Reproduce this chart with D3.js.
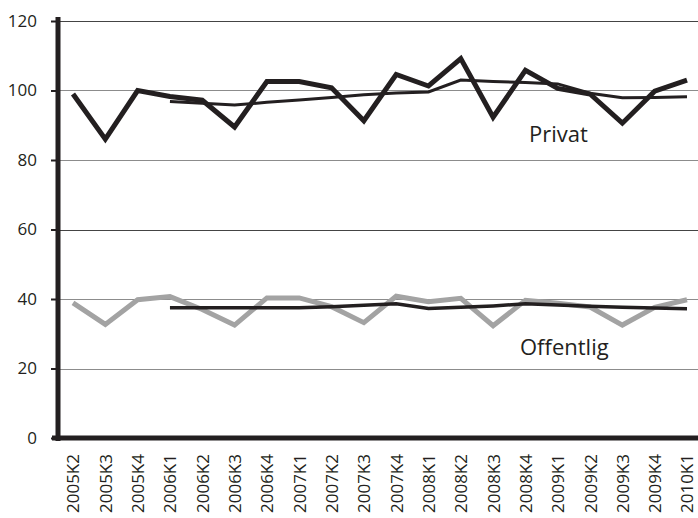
<!DOCTYPE html>
<html><head><meta charset="utf-8">
<script src="https://cdn.jsdelivr.net/npm/d3@7"></script>
<style>body{margin:0;background:#fff}svg{display:block;font-family:"Open Sans",sans-serif}</style>
</head><body><svg id="c" width="698" height="518"></svg>
<script>
const categories = ["2005K2","2005K3","2005K4","2006K1","2006K2","2006K3","2006K4","2007K1","2007K2","2007K3","2007K4","2008K1","2008K2","2008K3","2008K4","2009K1","2009K2","2009K3","2009K4","2010K1"];
const privat = [99,86,100,98.3,97.2,89.5,102.6,102.6,100.8,91.3,104.6,101.3,109.2,92.3,105.8,100.6,99,90.6,99.8,103];
const privatTrend = [null,null,null,96.8,96.3,95.8,96.6,97.3,98.0,98.8,99.3,99.6,103.0,102.6,102.3,101.9,99.2,97.9,98.0,98.2];
const offentlig = [38.9,32.7,39.8,40.7,37.0,32.5,40.3,40.3,37.8,33.2,40.8,39.2,40.2,32.3,39.6,38.8,37.7,32.5,37.6,39.8];
const offentligTrend = [null,null,null,37.5,37.5,37.5,37.5,37.5,37.8,38.2,38.6,37.3,37.6,38.0,38.6,38.3,37.9,37.6,37.4,37.2];
const yTicks = [0,20,40,60,80,100,120];
const seriesLabels = ["Privat","Offentlig"];

const svg = d3.select("#c");
const x = d3.scalePoint().domain(categories).range([73,687]);
const y = d3.scaleLinear().domain([0,120]).range([438,21]);

// gridlines
svg.append("g").selectAll("line").data(yTicks.filter(d=>d>0)).join("line")
  .attr("x1",60).attr("x2",698).attr("y1",d=>Math.round(y(d))+0.5).attr("y2",d=>Math.round(y(d))+0.5)
  .attr("stroke",d=>d%60===0?"#444":"#8c8c8c").attr("stroke-width",1);

// y axis
const ya = svg.append("g").attr("transform","translate(58,0)")
  .call(d3.axisLeft(y).tickValues(yTicks).tickSize(7).tickPadding(14));
ya.select(".domain").remove();
ya.selectAll(".tick line").attr("stroke","#231f20").attr("stroke-width",2);
ya.selectAll(".tick text").attr("fill","#231f20").style("font-size","17px").style("font-family","Open Sans, sans-serif");

// x axis labels
const xa = svg.append("g").attr("transform","translate(0,438)")
  .call(d3.axisBottom(x).tickSize(0).tickPadding(0));
xa.select(".domain").remove();
xa.selectAll(".tick text")
  .attr("transform","rotate(-90)")
  .attr("text-anchor","end").attr("dy","0.35em").attr("x",-16).attr("y",0)
  .attr("fill","#231f20").style("font-size","17px").style("font-family","Open Sans, sans-serif");

// axis lines
svg.append("line").attr("x1",58).attr("x2",58).attr("y1",17).attr("y2",441).attr("stroke","#231f20").attr("stroke-width",5);
svg.append("line").attr("x1",52).attr("x2",698).attr("y1",438).attr("y2",438).attr("stroke","#231f20").attr("stroke-width",5);

const line = d3.line().defined(d=>d!=null).x((d,i)=>x(categories[i])).y(d=>y(d));
function draw(data,color,w){
  svg.append("path").datum(data).attr("d",line).attr("fill","none").attr("stroke",color)
    .attr("stroke-width",w).attr("stroke-linejoin","miter");
}
draw(offentlig,"#a3a3a3",5);
draw(offentligTrend,"#231f20",3.5);
draw(privat,"#231f20",5);
draw(privatTrend,"#231f20",3);

svg.append("text").attr("x",529).attr("y",142).text(seriesLabels[0]).attr("fill","#231f20").style("font-size","22px");
svg.append("text").attr("x",520).attr("y",355).text(seriesLabels[1]).attr("fill","#231f20").style("font-size","22px");
</script></body></html>
